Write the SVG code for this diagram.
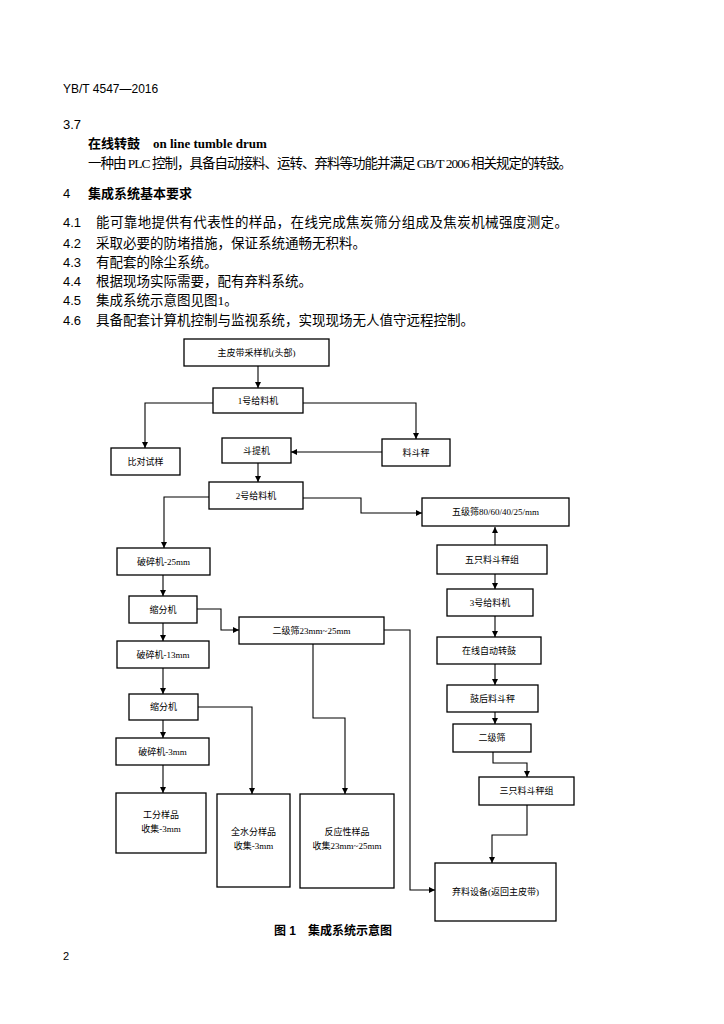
<svg xmlns="http://www.w3.org/2000/svg" width="724" height="1024" viewBox="0 0 724 1024">
<style>
.bg{fill:#fff}
.box{fill:#fff;stroke:#000;stroke-width:1.3}
.lbl{font-family:"Liberation Serif","Noto Sans CJK SC",serif;font-size:9px;text-anchor:middle;fill:#000}
.conn{fill:none;stroke:#000;stroke-width:1.1}
.body{font-family:"Liberation Serif","Noto Sans CJK SC",serif;font-size:13.5px;fill:#000}
.num{font-family:"Liberation Sans","Noto Sans CJK SC",sans-serif;font-size:13px;fill:#000}
.hd{font-family:"Liberation Sans","Noto Sans CJK SC",sans-serif;font-size:13px;font-weight:bold;fill:#000}
</style>
<defs>
<marker id="arr" markerUnits="userSpaceOnUse" markerWidth="6" markerHeight="6" refX="6" refY="3" orient="auto">
<path d="M0,0 L6,3 L0,6 z" fill="#000"/>
</marker>
</defs>
<rect class="bg" x="0" y="0" width="724" height="1024"/>
<g id="header">
<text class="num" x="63" y="93" style="font-size:12px">YB/T 4547—2016</text>
<text class="num" x="63" y="129">3.7</text>
<text class="hd" x="88" y="148">在线转鼓</text>
<text x="153" y="148" style="font-family:'Liberation Serif',serif;font-size:13px;font-weight:bold">on line tumble drum</text>
<text class="body" x="88" y="168" textLength="484" lengthAdjust="spacing">一种由 PLC 控制，具备自动接料、运转、弃料等功能并满足 GB/T 2006 相关规定的转鼓。</text>
<text class="num" x="63" y="198">4</text>
<text class="hd" x="88" y="198">集成系统基本要求</text>
<text class="num" x="63" y="227">4.1</text>
<text class="body" x="96" y="227" textLength="472" lengthAdjust="spacing">能可靠地提供有代表性的样品，在线完成焦炭筛分组成及焦炭机械强度测定。</text>
<text class="num" x="63" y="248">4.2</text>
<text class="body" x="96" y="248">采取必要的防堵措施，保证系统通畅无积料。</text>
<text class="num" x="63" y="267">4.3</text>
<text class="body" x="96" y="267">有配套的除尘系统。</text>
<text class="num" x="63" y="286">4.4</text>
<text class="body" x="96" y="286">根据现场实际需要，配有弃料系统。</text>
<text class="num" x="63" y="305">4.5</text>
<text class="body" x="96" y="305">集成系统示意图见图1。</text>
<text class="num" x="63" y="325">4.6</text>
<text class="body" x="96" y="325">具备配套计算机控制与监视系统，实现现场无人值守远程控制。</text>
</g>
<g id="connectors">
<path class="conn" d="M258,366 V388" marker-end="url(#arr)"/>
<path class="conn" d="M213,403 H145 V448" marker-end="url(#arr)"/>
<path class="conn" d="M303,403 H416 V439" marker-end="url(#arr)"/>
<path class="conn" d="M382,452 H291" marker-end="url(#arr)"/>
<path class="conn" d="M258,463 V482" marker-end="url(#arr)"/>
<path class="conn" d="M303,498 H361 V513 H422" marker-end="url(#arr)"/>
<path class="conn" d="M209,497 H164 V548" marker-end="url(#arr)"/>
<path class="conn" d="M495,545 V527" marker-end="url(#arr)"/>
<path class="conn" d="M495,574 V589" marker-end="url(#arr)"/>
<path class="conn" d="M495,616 V637" marker-end="url(#arr)"/>
<path class="conn" d="M495,664 V685" marker-end="url(#arr)"/>
<path class="conn" d="M495,712 V724" marker-end="url(#arr)"/>
<path class="conn" d="M493,752 V763 H527 V777" marker-end="url(#arr)"/>
<path class="conn" d="M527,805 V835 H492 V863" marker-end="url(#arr)"/>
<path class="conn" d="M163,575 V596" marker-end="url(#arr)"/>
<path class="conn" d="M163,623 V641" marker-end="url(#arr)"/>
<path class="conn" d="M163,668 V694" marker-end="url(#arr)"/>
<path class="conn" d="M163,720 V738" marker-end="url(#arr)"/>
<path class="conn" d="M163,765 V793" marker-end="url(#arr)"/>
<path class="conn" d="M197,609 H221 V630 H239" marker-end="url(#arr)"/>
<path class="conn" d="M384,630 H410 V890 H435" marker-end="url(#arr)"/>
<path class="conn" d="M313,644 V718 H345 V794" marker-end="url(#arr)"/>
<path class="conn" d="M198,707 H252 V794" marker-end="url(#arr)"/>
</g>
<g id="n1"><rect class="box" x="184" y="339" width="145" height="27"/><text class="lbl" x="256.5" y="356">主皮带采样机(头部)</text></g>
<g id="n2"><rect class="box" x="213" y="388" width="90" height="25"/><text class="lbl" x="258" y="404">1号给料机</text></g>
<g id="n3"><rect class="box" x="111" y="448" width="69" height="27"/><text class="lbl" x="145.5" y="465">比对试样</text></g>
<g id="n4"><rect class="box" x="222" y="438" width="69" height="25"/><text class="lbl" x="256.5" y="454">斗提机</text></g>
<g id="n5"><rect class="box" x="382" y="439" width="68" height="27"/><text class="lbl" x="416" y="456">料斗秤</text></g>
<g id="n6"><rect class="box" x="209" y="482" width="94" height="27"/><text class="lbl" x="256" y="499">2号给料机</text></g>
<g id="n7"><rect class="box" x="422" y="498" width="147" height="28"/><text class="lbl" x="495.5" y="515">五级筛80/60/40/25/mm</text></g>
<g id="n8"><rect class="box" x="117" y="548" width="93" height="27"/><text class="lbl" x="163.5" y="565">破碎机-25mm</text></g>
<g id="n9"><rect class="box" x="437" y="545" width="110" height="29"/><text class="lbl" x="492" y="563">五只料斗秤组</text></g>
<g id="n10"><rect class="box" x="129" y="596" width="68" height="27"/><text class="lbl" x="163" y="613">缩分机</text></g>
<g id="n11"><rect class="box" x="447" y="589" width="86" height="27"/><text class="lbl" x="490" y="606">3号给料机</text></g>
<g id="n12"><rect class="box" x="239" y="617" width="145" height="27"/><text class="lbl" x="311.5" y="634">二级筛23mm~25mm</text></g>
<g id="n13"><rect class="box" x="117" y="641" width="92" height="27"/><text class="lbl" x="163" y="658">破碎机-13mm</text></g>
<g id="n14"><rect class="box" x="437" y="637" width="104" height="27"/><text class="lbl" x="489" y="654">在线自动转鼓</text></g>
<g id="n15"><rect class="box" x="129" y="694" width="69" height="26"/><text class="lbl" x="163.5" y="710">缩分机</text></g>
<g id="n16"><rect class="box" x="447" y="685" width="91" height="27"/><text class="lbl" x="492.5" y="702">鼓后料斗秤</text></g>
<g id="n17"><rect class="box" x="116" y="738" width="93" height="27"/><text class="lbl" x="162.5" y="755">破碎机-3mm</text></g>
<g id="n18"><rect class="box" x="453" y="724" width="78" height="28"/><text class="lbl" x="492" y="741">二级筛</text></g>
<g id="n19"><rect class="box" x="479" y="777" width="95" height="28"/><text class="lbl" x="526.5" y="794">三只料斗秤组</text></g>
<g id="n20"><rect class="box" x="116" y="793" width="90" height="60"/><text class="lbl" x="161" y="818">工分样品</text><text class="lbl" x="161" y="832">收集-3mm</text></g>
<g id="n21"><rect class="box" x="217" y="794" width="73" height="93"/><text class="lbl" x="253.5" y="835">全水分样品</text><text class="lbl" x="253.5" y="849">收集-3mm</text></g>
<g id="n22"><rect class="box" x="300" y="794" width="94" height="94"/><text class="lbl" x="347" y="835">反应性样品</text><text class="lbl" x="347" y="849">收集23mm~25mm</text></g>
<g id="n23"><rect class="box" x="435" y="863" width="121" height="58"/><text class="lbl" x="495.5" y="895">弃料设备(返回主皮带)</text></g>
<g id="caption">
<text class="hd" x="333" y="935" text-anchor="middle" style="font-size:12px">图 1　集成系统示意图</text>
<text class="num" x="63" y="960" style="font-size:11px">2</text>
</g>
</svg>
